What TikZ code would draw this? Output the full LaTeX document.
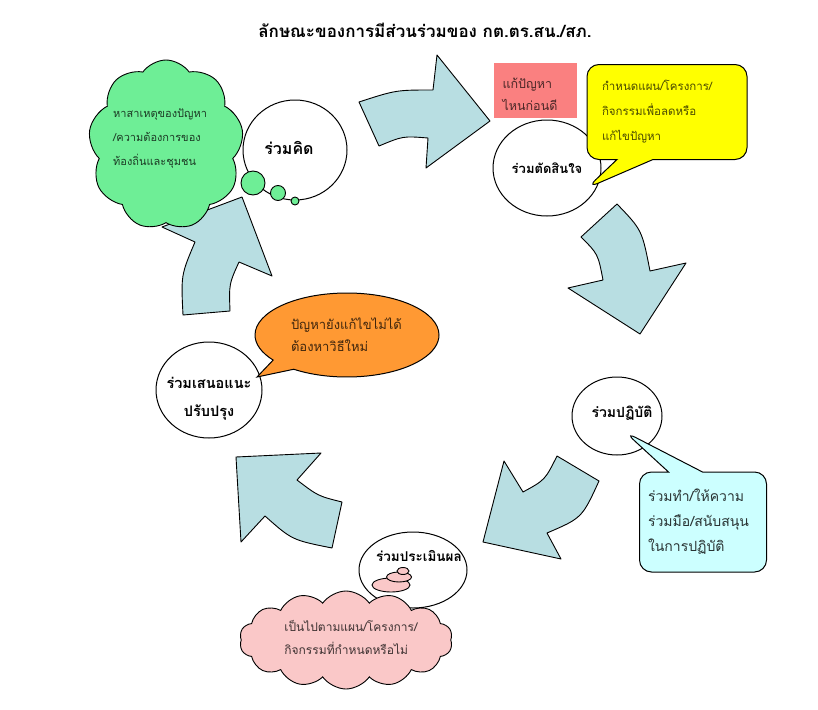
\documentclass[tikz,border=0pt]{standalone}
\usepackage{fontspec}
\setmainfont{Loma}[Script=Thai]
\usetikzlibrary{shapes.geometric,shapes.symbols,shapes.callouts}
\definecolor{arrowblue}{RGB}{184,222,226}
\definecolor{mintgreen}{RGB}{110,238,150}
\definecolor{rosepink}{RGB}{250,200,200}
\definecolor{salmon}{RGB}{250,128,128}
\definecolor{calloutorange}{RGB}{255,153,51}
\definecolor{paleyellow}{RGB}{255,255,0}
\definecolor{palecyan}{RGB}{204,255,255}
\tikzset{
  stage/.style={ellipse, draw, fill=white, line width=1pt, inner sep=0pt, align=center},
  stagetext/.style={font=\bfseries\fontsize{#1}{28}\selectfont, align=center},
  stagetext/.default=14,
  flowarrow/.style={draw, fill=arrowblue, line width=0.9pt, line join=round},
  notetext/.style args={#1/#2}{font=\fontsize{#1}{#2}\selectfont, align=left},
  puff/.style={draw, line width=0.9pt},
}
\begin{document}
\begin{tikzpicture}[x=1pt,y=-1pt]
\useasboundingbox[fill=white] (0,0) rectangle (818,709);
% title
\node[font=\bfseries\fontsize{17}{20}\selectfont] (title) at (425,30) {ลักษณะของการมีส่วนร่วมของ กต.ตร.สน./สภ.};
% block arrows of the cycle
\draw[flowarrow] (359,102) .. controls (396,90) .. (433,90) -- (437,55) -- (490,121)
  -- (426,168) -- (428,138) .. controls (403,136) .. (379,146) -- cycle;
\draw[flowarrow] (617,204) .. controls (642,230) .. (650,271) -- (686,263) -- (640,334)
  -- (568,288) -- (603,280) .. controls (598,254) .. (581,237) -- cycle;
\draw[flowarrow] (483,542) -- (504,461) -- (523,492) .. controls (545,480) .. (557,456)
  -- (599,481) .. controls (582,518) .. (547,533) -- (561,559) -- cycle;
\draw[flowarrow] (236,457) -- (321,453) -- (297,480) .. controls (318,496) .. (342,502)
  -- (332,548) .. controls (292,540) .. (265,516) -- (241,542) -- cycle;
\draw[flowarrow] (162,227) -- (242,197) -- (272,276) -- (239,262) .. controls (229,284) .. (230,311)
  -- (183,315) .. controls (181,275) .. (195,242) -- cycle;
% stages
\node[stage, minimum width=104pt, minimum height=100pt] (think) at (295,150) {};
\node[stagetext=16] (thinktext) at (289,148) {ร่วมคิด};
\node[stage, stagetext=13, minimum width=108pt, minimum height=96pt] (decide) at (547,168) {ร่วมตัดสินใจ};
\node[stage, minimum width=90pt, minimum height=78pt] (act) at (617,416) {};
\node[stagetext] (acttext) at (622,413) {ร่วมปฏิบัติ};
\node[stage, minimum width=108pt, minimum height=76pt] (evaluate) at (413,570) {};
\node[stagetext=13.5] (evaluatetext) at (419,556) {ร่วมประเมินผล};
\node[stage, minimum width=106pt, minimum height=96pt] (improve) at (209,390) {};
\node[stagetext=14.5] (improvetext) at (209,399) {ร่วมเสนอแนะ\\ปรับปรุง};
% notes
\node[cloud, cloud puffs=9, cloud puff arc=110, aspect=0.9, draw, line width=0.9pt, fill=mintgreen,
  minimum width=155pt, minimum height=170pt, inner sep=0pt] (causecloud) at (166,145) {};
\node[notetext=11/24, text=mintgreen!25!black, anchor=west, inner sep=0pt] (cause) at (113,139)
  {หาสาเหตุของปัญหา\\/ความต้องการของ\\ท้องถิ่นและชุมชน};
\filldraw[puff, fill=mintgreen] (253,183) circle (12);
\filldraw[puff, fill=mintgreen] (278,193) circle (7.5);
\filldraw[puff, fill=mintgreen] (295,201) circle (4);
\node[fill=salmon, minimum width=83pt, minimum height=55pt] (whichbox) at (535.5,90.5) {};
\node[notetext=12.5/22, text=salmon!30!black] (which) at (530,94) {แก้ปัญหา\\ไหนก่อนดี};
\node[rectangle callout, rounded corners=12pt, draw, line width=1pt, fill=paleyellow,
  minimum width=160pt, minimum height=95pt, callout absolute pointer={(587,188)},
  callout pointer width=36pt, notetext=11.5/25, text width=130pt, text=paleyellow!30!black] (plan) at (667,112)
  {กำหนดแผน/โครงการ/\\กิจกรรมเพื่อลดหรือ\\แก้ไขปัญหา};
\node[rectangle callout, rounded corners=12pt, draw, line width=1pt, fill=palecyan,
  minimum width=127pt, minimum height=100pt, callout absolute pointer={(625,432)},
  callout pointer width=34pt, notetext=14/25, text width=110pt, text=palecyan!20!black] (help) at (703,522)
  {ร่วมทำ/ให้ความ\\ร่วมมือ/สนับสนุน\\ในการปฏิบัติ};
\node[ellipse callout, draw, line width=1pt, fill=calloutorange, inner sep=0pt,
  minimum width=184pt, minimum height=84pt, callout absolute pointer={(257,377)},
  callout pointer arc=18, notetext=13/22, text width=112pt, text=calloutorange!25!black] (retry) at (347,335)
  {ปัญหายังแก้ไขไม่ได้\\ต้องหาวิธีใหม่};
\node[cloud, cloud puffs=14, cloud puff arc=110, aspect=2.2, draw, line width=0.9pt, fill=rosepink,
  minimum width=213pt, minimum height=98pt, inner sep=0pt] (resultcloud) at (346,640) {};
\node[notetext=12/23, text=rosepink!25!black] (result) at (351,637)
  {เป็นไปตามแผน/โครงการ/\\กิจกรรมที่กำหนดหรือไม่};
\filldraw[puff, fill=rosepink] (391,585) ellipse (19 and 7);
\filldraw[puff, fill=rosepink] (399,577) ellipse (12.5 and 5);
\filldraw[puff, fill=rosepink] (403,571) ellipse (6 and 3.5);
\end{tikzpicture}
\end{document}
